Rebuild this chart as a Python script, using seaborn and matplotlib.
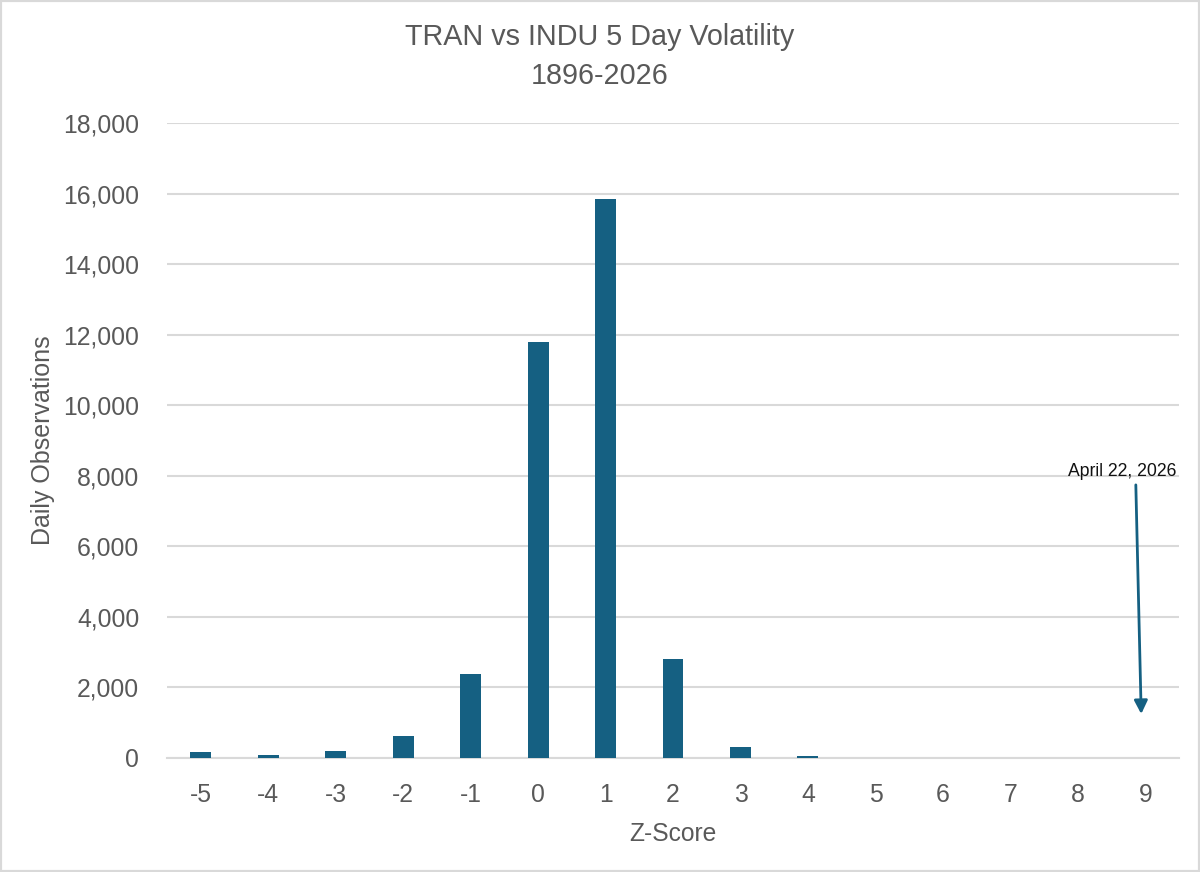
import matplotlib
matplotlib.use("Agg")
import matplotlib.pyplot as plt
import pandas as pd
import seaborn as sns
from matplotlib.patches import Rectangle
from matplotlib.ticker import FuncFormatter

z_scores = [-5, -4, -3, -2, -1, 0, 1, 2, 3, 4, 5, 6, 7, 8, 9]
observations = [150, 70, 175, 610, 2380, 11810, 15850, 2790, 295, 50, 0, 0, 0, 0, 0]
y_ticks = [0, 2000, 4000, 6000, 8000, 10000, 12000, 14000, 16000, 18000]

BAR_COLOR = "#156082"
TEXT_COLOR = "#595959"
GRID_COLOR = "#D9D9D9"

sns.set_theme(style="white")
plt.rcParams["font.family"] = ["Liberation Sans", "DejaVu Sans"]

df = pd.DataFrame({"z": z_scores, "count": observations})

fig = plt.figure(figsize=(12, 8.72), dpi=100)
ax = fig.add_axes([167 / 1200, 1 - 757.5 / 872, 1012 / 1200, 634 / 872])

sns.barplot(data=df, x="z", y="count", order=z_scores, color=BAR_COLOR,
            saturation=1, width=0.31, linewidth=0, ax=ax, zorder=3)

ax.set_xlim(-0.5, 14.5)
ax.set_ylim(0, 18000)
ax.set_yticks(y_ticks)
ax.yaxis.set_major_formatter(FuncFormatter(lambda v, _: f"{int(v):,}"))
ax.grid(axis="y", color=GRID_COLOR, linewidth=1.5, zorder=0)
ax.set_axisbelow(True)
sns.despine(ax=ax, left=True, top=True, right=True)
ax.spines["bottom"].set_color(GRID_COLOR)
ax.spines["bottom"].set_linewidth(1.5)

ax.tick_params(axis="both", length=0, labelsize=17.8, labelcolor=TEXT_COLOR)
ax.tick_params(axis="x", pad=18)
ax.tick_params(axis="y", pad=20)
ax.set_xlabel("Z-Score", fontsize=17.7, color=TEXT_COLOR, labelpad=11)
ax.set_ylabel("Daily Observations", fontsize=18, color=TEXT_COLOR, labelpad=6)

fig.text(600 / 1200, 1 - 56.5 / 872, "TRAN vs INDU 5 Day Volatility\n1896-2026",
         ha="center", va="center", fontsize=20.7, color=TEXT_COLOR, linespacing=1.5)

# callout for the latest reading
ax.annotate("", xy=(13.94, 1235), xytext=(13.86, 7740),
            arrowprops=dict(arrowstyle="-|>", color=BAR_COLOR, lw=2, mutation_scale=20,
                            shrinkA=0, shrinkB=0))
ax.text(13.66, 7890, "April 22, 2026", ha="center", va="bottom", fontsize=12.7,
        color="#111111", zorder=5)

# thin chart border like the spreadsheet frame
fig.add_artist(Rectangle((0, 0), 1, 1, transform=fig.transFigure, fill=False,
                         edgecolor=GRID_COLOR, linewidth=3))

fig.savefig("out.png", dpi=100)
